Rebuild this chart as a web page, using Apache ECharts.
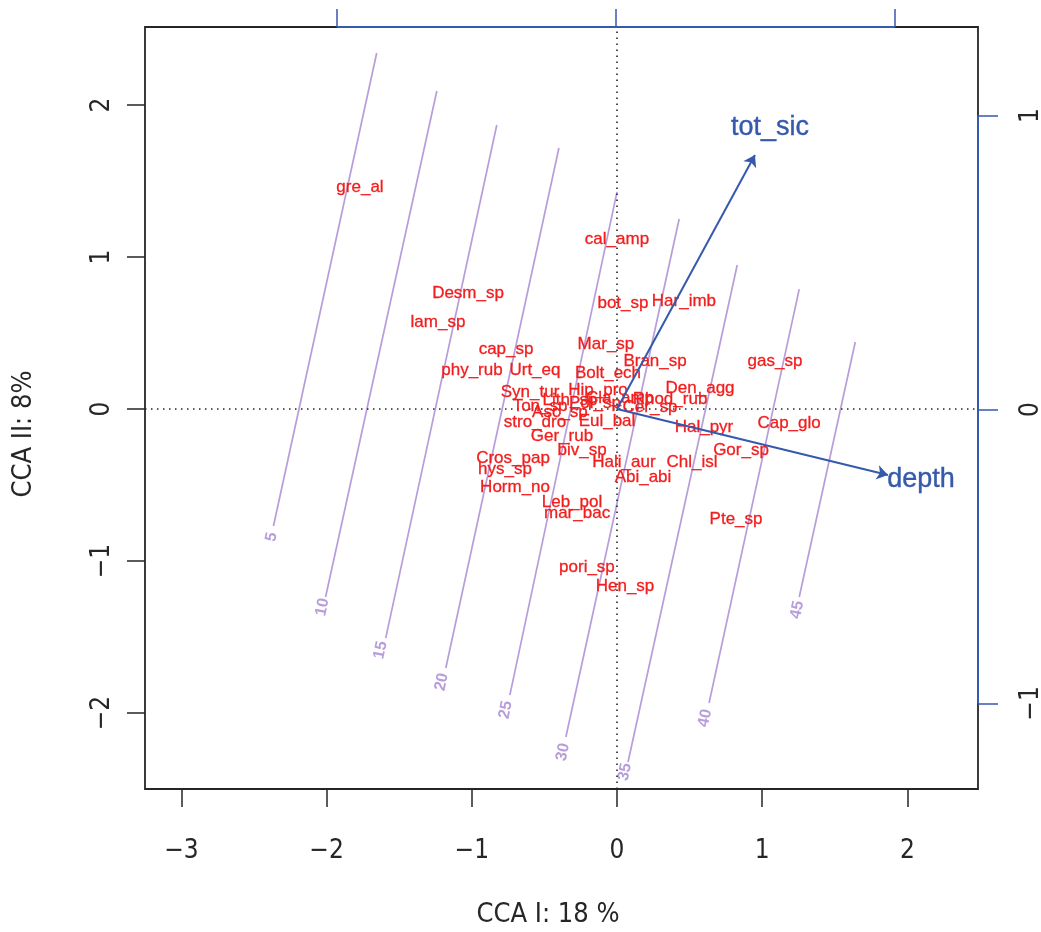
<!DOCTYPE html>
<html>
<head>
<meta charset="utf-8">
<script src="https://cdn.jsdelivr.net/npm/echarts@6/dist/echarts.min.js"></script>
<style>
html,body{margin:0;padding:0;background:#fff;}
#chart{width:1041px;height:932px;}
</style>
</head>
<body>
<div id="chart"></div>
<script>
// ---------- data ----------
var speciesNames = ["gre_al","cal_amp","Desm_sp","bot_sp","Har_imb","lam_sp","cap_sp","Mar_sp","Bran_sp","gas_sp",
  "phy_rub","Urt_eq","Bolt_ech","Den_agg","Syn_tur","Hip_pro","Ton_sp","Lith_sp","Pol_sp","Cla_amp",
  "Rhod_rub","Cer_sp","Asc_sp","stro_dro","Eul_bal","Ger_rub","Hal_pyr","Cap_glo","Gor_sp","biv_sp",
  "Cros_pap","hys_sp","Hali_aur","Chl_isl","Abi_abi","Horm_no","Leb_pol","mar_bac","Pte_sp","pori_sp","Hen_sp"];
var speciesX = [-1.770,0.000,-1.026,0.041,0.461,-1.233,-0.764,-0.076,0.262,1.088,
  -0.999,-0.565,-0.062,0.572,-0.599,-0.131,-0.530,-0.324,-0.152,0.021,
  0.365,0.227,-0.393,-0.565,-0.069,-0.379,0.599,1.185,0.854,-0.241,
  -0.716,-0.771,0.048,0.517,0.179,-0.702,-0.310,-0.275,0.820,-0.207,0.055];
var speciesY = [1.461,1.118,0.763,0.697,0.711,0.572,0.395,0.428,0.316,0.316,
  0.257,0.257,0.237,0.138,0.112,0.125,0.020,0.059,0.039,0.072,
  0.066,0.013,-0.020,-0.086,-0.079,-0.178,-0.118,-0.092,-0.270,-0.270,
  -0.322,-0.395,-0.349,-0.349,-0.447,-0.513,-0.612,-0.684,-0.724,-1.039,-1.164];

var envNames = ["tot_sic","depth"];
var envX = [0.950, 1.866];
var envY = [1.671, -0.434];
var envLabelX = [1.054, 2.094];
var envLabelY = [1.849, -0.467];

var contourLevels = [5,10,15,20,25,30,35,40,45];
var contourTopX = [-1.655,-1.241,-0.828,-0.400,0.000,0.428,0.828,1.255,1.641];
var contourTopY = [2.342,2.092,1.868,1.717,1.428,1.250,0.947,0.789,0.441];
var contourBotX = [-2.366,-2.007,-1.593,-1.179,-0.738,-0.352,0.076,0.634,1.255];
var contourBotY = [-0.770,-1.237,-1.507,-1.704,-1.882,-2.158,-2.322,-1.934,-1.237];
var contourLabelX = [-2.379,-2.028,-1.628,-1.207,-0.766,-0.372,0.055,0.607,1.241];
var contourLabelY = [-0.842,-1.303,-1.586,-1.796,-1.980,-2.257,-2.388,-2.033,-1.322];

var xTicks = [-3,-2,-1,0,1,2];
var yTicks = [-2,-1,0,1,2];
var topTicks = [-1,0,1];
var rightTicks = [-1,0,1];
var xTitle = "CCA I: 18 %";
var yTitle = "CCA II: 8%";

// axis ranges
var X_MIN = -3.2507, X_MAX = 2.4862, Y_MIN = -2.5, Y_MAX = 2.513;
var TX_MIN = -1.6882, TX_MAX = 1.2975, RY_MIN = -1.291, RY_MAX = 1.301;

// ---------- styling ----------
var RED = "#f21d1d", BLUE = "#3559ad", PURPLE = "#b89ddb", INK = "#262626";
var AXFONT = "'DejaVu Sans Condensed','Liberation Sans',sans-serif";
var CLEAR = "rgba(0,0,0,0)";
function fmt(v){ return v < 0 ? "\u2212" + Math.abs(v) : String(v); }

var speciesData = speciesNames.map(function(n,i){ return {name:n, value:[speciesX[i], speciesY[i]]}; });
var contourLinesData = contourLevels.map(function(l,i){ return {coords:[[contourTopX[i],contourTopY[i]],[contourBotX[i],contourBotY[i]]]}; });
var contourLabelData = contourLevels.map(function(l,i){ return {name:String(l), value:[contourLabelX[i], contourLabelY[i]]}; });
var arrowData = envNames.map(function(n,i){ return {coords:[[0,0],[envX[i],envY[i]]]}; });
var envLabelData = envNames.map(function(n,i){ return {name:n, value:[envLabelX[i], envLabelY[i]]}; });

var chart = echarts.init(document.getElementById('chart'), null, {renderer:'canvas'});
var option = {
  backgroundColor: "#fff",
  animation: false,
  grid: {left:145, right:63, top:27, bottom:143, outerBoundsMode:'none', containLabel:false,
         show:true, borderColor:INK, borderWidth:1.8, backgroundColor:'transparent'},
  xAxis: [
    {type:'value', position:'bottom', min:X_MIN, max:X_MAX,
     axisLine:{show:false, onZero:false}, splitLine:{show:false},
     axisTick:{show:true, customValues:xTicks, length:18, lineStyle:{color:INK, width:1.5}},
     axisLabel:{customValues:xTicks, formatter:fmt, margin:49, fontSize:26, color:INK, fontFamily:AXFONT},
     name:xTitle, nameLocation:'middle', nameGap:112,
     nameTextStyle:{fontSize:27, color:INK, fontFamily:AXFONT, padding:[0,27,0,0]}},
    {type:'value', position:'top', min:TX_MIN, max:TX_MAX,
     axisLine:{show:false, onZero:false}, splitLine:{show:false},
     axisTick:{show:true, customValues:topTicks, length:18, lineStyle:{color:BLUE, width:1.5}},
     axisLabel:{show:false}}
  ],
  yAxis: [
    {type:'value', position:'left', min:Y_MIN, max:Y_MAX,
     axisLine:{show:false, onZero:false}, splitLine:{show:false},
     axisTick:{show:true, customValues:yTicks, length:18, lineStyle:{color:INK, width:1.5}},
     axisLabel:{customValues:yTicks, formatter:fmt, margin:30, fontSize:26, color:INK, fontFamily:AXFONT, rotate:90},
     name:yTitle, nameLocation:'middle', nameGap:108,
     nameTextStyle:{fontSize:27, color:INK, fontFamily:AXFONT, padding:[0,52,0,0]}},
    {type:'value', position:'right', min:RY_MIN, max:RY_MAX,
     axisLine:{show:false, onZero:false}, splitLine:{show:false},
     axisTick:{show:true, customValues:rightTicks, length:20, lineStyle:{color:BLUE, width:1.5}},
     axisLabel:{customValues:rightTicks, formatter:fmt, margin:40, fontSize:26, color:INK, fontFamily:AXFONT, rotate:90}}
  ],
  series: [
    // dotted zero lines
    {type:'line', xAxisIndex:0, yAxisIndex:0, data:[[X_MIN,0],[X_MAX,0]], symbol:'none',
     lineStyle:{color:INK, width:1.6, type:[1.5,4.5]}, silent:true},
    {type:'line', xAxisIndex:0, yAxisIndex:0, data:[[0,Y_MIN],[0,Y_MAX]], symbol:'none',
     lineStyle:{color:INK, width:1.6, type:[1.5,4.5]}, silent:true},
    // blue secondary axis lines (between outer ticks)
    {type:'line', xAxisIndex:1, yAxisIndex:0, data:[[topTicks[0],Y_MAX],[topTicks[topTicks.length-1],Y_MAX]], symbol:'none', clip:false,
     lineStyle:{color:BLUE, width:2}, silent:true, z:5},
    {type:'line', xAxisIndex:0, yAxisIndex:1, data:[[X_MAX,rightTicks[0]],[X_MAX,rightTicks[rightTicks.length-1]]], symbol:'none', clip:false,
     lineStyle:{color:BLUE, width:2}, silent:true, z:5},
    // contour lines
    {type:'lines', coordinateSystem:'cartesian2d', xAxisIndex:0, yAxisIndex:0, data:contourLinesData,
     lineStyle:{color:PURPLE, width:1.7, opacity:1}, silent:true},
    {type:'scatter', xAxisIndex:0, yAxisIndex:0, data:contourLabelData, symbolSize:2, itemStyle:{color:CLEAR, opacity:1},
     label:{show:true, position:'inside', formatter:'{b}', rotate:78, color:PURPLE, fontSize:16, fontWeight:'bold',
            fontFamily:"'Liberation Sans',sans-serif"}, silent:true},
    // species labels
    {type:'scatter', xAxisIndex:0, yAxisIndex:0, data:speciesData, symbolSize:2, itemStyle:{color:CLEAR, opacity:1},
     label:{show:true, position:'inside', formatter:'{b}', color:RED, fontSize:17,
            textBorderColor:RED, textBorderWidth:0.3,
            fontFamily:"'Liberation Sans',sans-serif"}, labelLayout:{hideOverlap:false}, silent:true, z:3},
    // environmental arrows
    {type:'lines', coordinateSystem:'cartesian2d', xAxisIndex:0, yAxisIndex:0, data:arrowData,
     symbol:['none','arrow'], symbolSize:11,
     lineStyle:{color:BLUE, width:2, opacity:1}, silent:true, z:4},
    {type:'scatter', xAxisIndex:0, yAxisIndex:0, data:envLabelData, symbolSize:2, itemStyle:{color:CLEAR, opacity:1},
     label:{show:true, position:'inside', formatter:'{b}', color:BLUE, fontSize:27,
            textBorderColor:BLUE, textBorderWidth:0.4,
            fontFamily:"'Liberation Sans',sans-serif"}, silent:true, z:4}
  ]
};
chart.setOption(option);
</script>
</body>
</html>
